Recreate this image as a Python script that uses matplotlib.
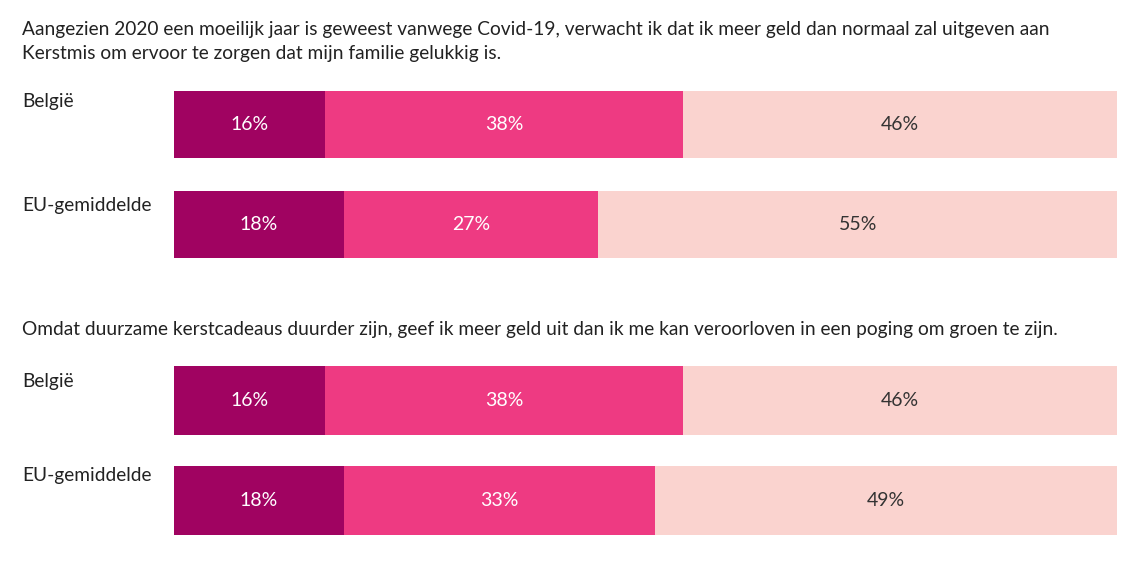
import matplotlib.pyplot as plt

plt.rcParams['font.family'] = ['Lato', 'DejaVu Sans']

title_1 = ["Aangezien 2020 een moeilijk jaar is geweest vanwege Covid-19, verwacht ik dat ik meer geld dan normaal zal uitgeven aan",
           "Kerstmis om ervoor te zorgen dat mijn familie gelukkig is."]
title_2 = "Omdat duurzame kerstcadeaus duurder zijn, geef ik meer geld uit dan ik me kan veroorloven in een poging om groen te zijn."
groups = ["België", "EU-gemiddelde"]

# shares per group: dark, pink, light
q1_dark = [16, 18]
q1_mid = [38, 27]
q1_light = [46, 55]
q2_dark = [16, 18]
q2_mid = [38, 33]
q2_light = [46, 49]

colors = ["#A00361", "#EE3A82", "#FAD3CF"]
text_colors = ["white", "white", "#333333"]

W, H = 1143, 561
fig = plt.figure(figsize=(W / 100, H / 100), dpi=100)


def draw(rect, dark, mid, light, bh):
    ax = fig.add_axes(rect)
    for i in range(len(groups)):
        left = 0
        for j, v in enumerate([dark[i], mid[i], light[i]]):
            ax.barh(i, v, left=left, height=bh, color=colors[j], linewidth=0)
            ax.text(left + v / 2, i, f"{v}%", ha="center", va="center",
                    fontsize=14, color=text_colors[j])
            left += v
    ax.set_xlim(0, 100)
    ax.set_ylim(len(groups) - 1 + bh / 2, -bh / 2)
    ax.axis("off")
    return ax


draw([174 / W, 1 - 258 / H, 943 / W, 167 / H], q1_dark, q1_mid, q1_light, 0.67)
draw([174 / W, 1 - 535 / H, 943 / W, 169 / H], q2_dark, q2_mid, q2_light, 0.69)

for y, line in zip([30, 54], title_1):
    fig.text(22 / W, 1 - y / H, line, ha="left", va="center", fontsize=13.8,
             color="#222222")
fig.text(22 / W, 1 - 330 / H, title_2, ha="left", va="center", fontsize=13.8,
         color="#222222")

for y, lab in zip([101, 205, 382, 476], groups * 2):
    fig.text(22 / W, 1 - y / H, lab, ha="left", va="center", fontsize=13.8,
             color="#222222")

fig.savefig("out.png", dpi=100)
